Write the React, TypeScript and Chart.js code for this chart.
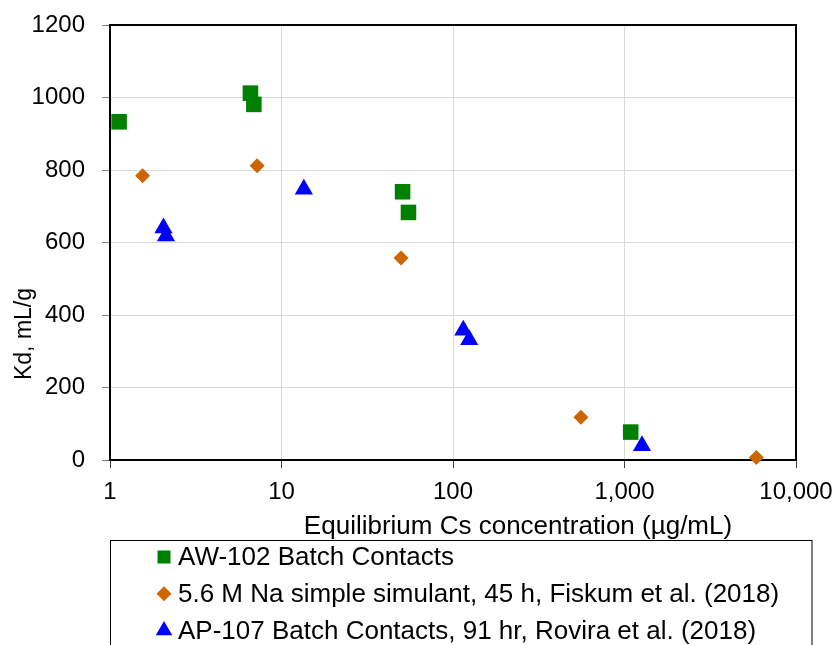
import React, { useEffect, useRef } from 'react';
import { Chart, registerables } from 'chart.js';
import { drawPoint } from 'chart.js/helpers';

Chart.register(...registerables);

// ---- data ----
const seriesLabels = [
  'AW-102 Batch Contacts',
  '5.6 M Na simple simulant, 45 h, Fiskum et al. (2018)',
  'AP-107 Batch Contacts, 91 hr, Rovira et al. (2018)',
];
const aw102X = [1.13, 6.59, 6.9, 50.8, 55.0, 1087];
const aw102Y = [933, 1012, 981, 740, 683, 77];
const fiskumX = [1.55, 7.21, 49.8, 557, 5870];
const fiskumY = [784, 812, 557, 118, 7];
const ap107X = [2.05, 2.12, 13.5, 114.8, 124.3, 1265];
const ap107Y = [640, 618, 747, 358, 332, 39];
const xTickValues = [1, 10, 100, 1000, 10000];
const yMin = 0;
const yMax = 1200;
const yStep = 200;
const xTitle = 'Equilibrium Cs concentration (µg/mL)';
const yTitle = 'Kd, mL/g';

const REG = '"Liberation Sans", Arial, sans-serif';

const pts = (xs: number[], ys: number[]) => xs.map((x, i) => ({ x, y: ys[i] }));

const legendRadius: Record<string, number> = { rect: 9.2, rectRot: 7.5, triangle: 9.5 };

const decorPlugin = {
  id: 'decor',
  beforeDatasetsDraw(chart: any) {
    const { ctx, chartArea: a } = chart;
    ctx.save();
    ctx.strokeStyle = '#000';
    ctx.lineWidth = 2;
    ctx.strokeRect(a.left, a.top, a.right - a.left, a.bottom - a.top);
    ctx.restore();
  },
  afterDraw(chart: any) {
    const { ctx, chartArea: a } = chart;
    ctx.save();
    ctx.fillStyle = '#000';
    ctx.textBaseline = 'middle';
    // x axis title
    ctx.textAlign = 'center';
    ctx.font = `26px ${REG}`;
    ctx.fillText(xTitle, a.left + 408, a.bottom + 67);
    // legend frame
    const boxLeft = a.left + 0.5;
    const boxTop = a.bottom + 80.5;
    ctx.strokeStyle = '#000';
    ctx.lineWidth = 1;
    ctx.strokeRect(boxLeft, boxTop, a.right + 16 - boxLeft, 200);
    // legend rows built from the datasets
    ctx.textAlign = 'left';
    ctx.font = `26px ${REG}`;
    chart.data.datasets.forEach((ds: any, i: number) => {
      const cy = boxTop + 16.5 + i * 36.7;
      ctx.fillStyle = ds.backgroundColor;
      drawPoint(ctx, { pointStyle: ds.pointStyle, rotation: 0, radius: legendRadius[ds.pointStyle] || 9, borderWidth: 0 } as any, a.left + 54, cy);
      ctx.fillStyle = '#000';
      ctx.fillText(ds.label, a.left + 68, cy + 1);
    });
    // y axis title
    ctx.textAlign = 'center';
    ctx.translate(25, a.bottom - 126);
    ctx.rotate(-Math.PI / 2);
    ctx.font = `23px ${REG}`;
    ctx.fillText(yTitle, 0, 0);
    ctx.restore();
  },
};

export default function App() {
  const ref = useRef<HTMLCanvasElement>(null);
  useEffect(() => {
    if (!ref.current) return;
    const chart = new Chart(ref.current, {
      type: 'scatter',
      data: {
        datasets: [
          {
            label: seriesLabels[0],
            data: pts(aw102X, aw102Y),
            backgroundColor: '#008000',
            borderColor: '#008000',
            pointStyle: 'rect',
            pointRadius: 11,
            borderWidth: 0,
            clip: false as any,
          },
          {
            label: seriesLabels[1],
            data: pts(fiskumX, fiskumY),
            backgroundColor: '#CC6600',
            borderColor: '#CC6600',
            pointStyle: 'rectRot',
            pointRadius: 7.5,
            borderWidth: 0,
            clip: false as any,
          },
          {
            label: seriesLabels[2],
            data: pts(ap107X, ap107Y),
            backgroundColor: '#0000FF',
            borderColor: '#0000FF',
            pointStyle: 'triangle',
            pointRadius: 10.5,
            borderWidth: 0,
            clip: false as any,
          },
        ],
      },
      options: {
        animation: false,
        responsive: false,
        devicePixelRatio: 1,
        layout: { padding: { top: 25, right: 40, left: 0, bottom: 0 } },
        scales: {
          x: {
            type: 'logarithmic',
            min: xTickValues[0],
            max: xTickValues[xTickValues.length - 1],
            afterBuildTicks: (s: any) => {
              s.ticks = xTickValues.map((value) => ({ value }));
            },
            afterFit: (s: any) => {
              s.height = 185;
              s.paddingLeft = 0;
              s.paddingRight = 0;
            },
            ticks: {
              callback: (v: any) => Number(v).toLocaleString('en-US'),
              color: '#000',
              font: { family: REG, size: 24 },
              padding: 10,
              maxRotation: 0,
              autoSkip: false,
              major: { enabled: false },
            },
            grid: { color: '#d9d9d9', lineWidth: 1, tickColor: '#404040', tickLength: 8 },
            border: { color: '#000', width: 2 },
          },
          y: {
            type: 'linear',
            min: yMin,
            max: yMax,
            afterFit: (s: any) => {
              s.width = 110;
              s.paddingTop = 0;
              s.paddingBottom = 0;
            },
            ticks: {
              stepSize: yStep,
              callback: (v: any) => String(v),
              color: '#000',
              font: { family: REG, size: 24 },
              padding: 17,
            },
            grid: { color: '#d9d9d9', lineWidth: 1, tickColor: '#808080', tickLength: 8 },
            border: { color: '#000', width: 2 },
          },
        },
        plugins: {
          legend: { display: false },
          tooltip: { enabled: false },
        },
      },
      plugins: [decorPlugin],
    } as any);
    return () => chart.destroy();
  }, []);

  return (
    <div
      style={{
        position: 'absolute',
        left: 0,
        top: 0,
        width: 836,
        height: 645,
        overflow: 'hidden',
        background: '#fff',
      }}
    >
      <canvas ref={ref} width={836} height={645} style={{ display: 'block' }} />
    </div>
  );
}
